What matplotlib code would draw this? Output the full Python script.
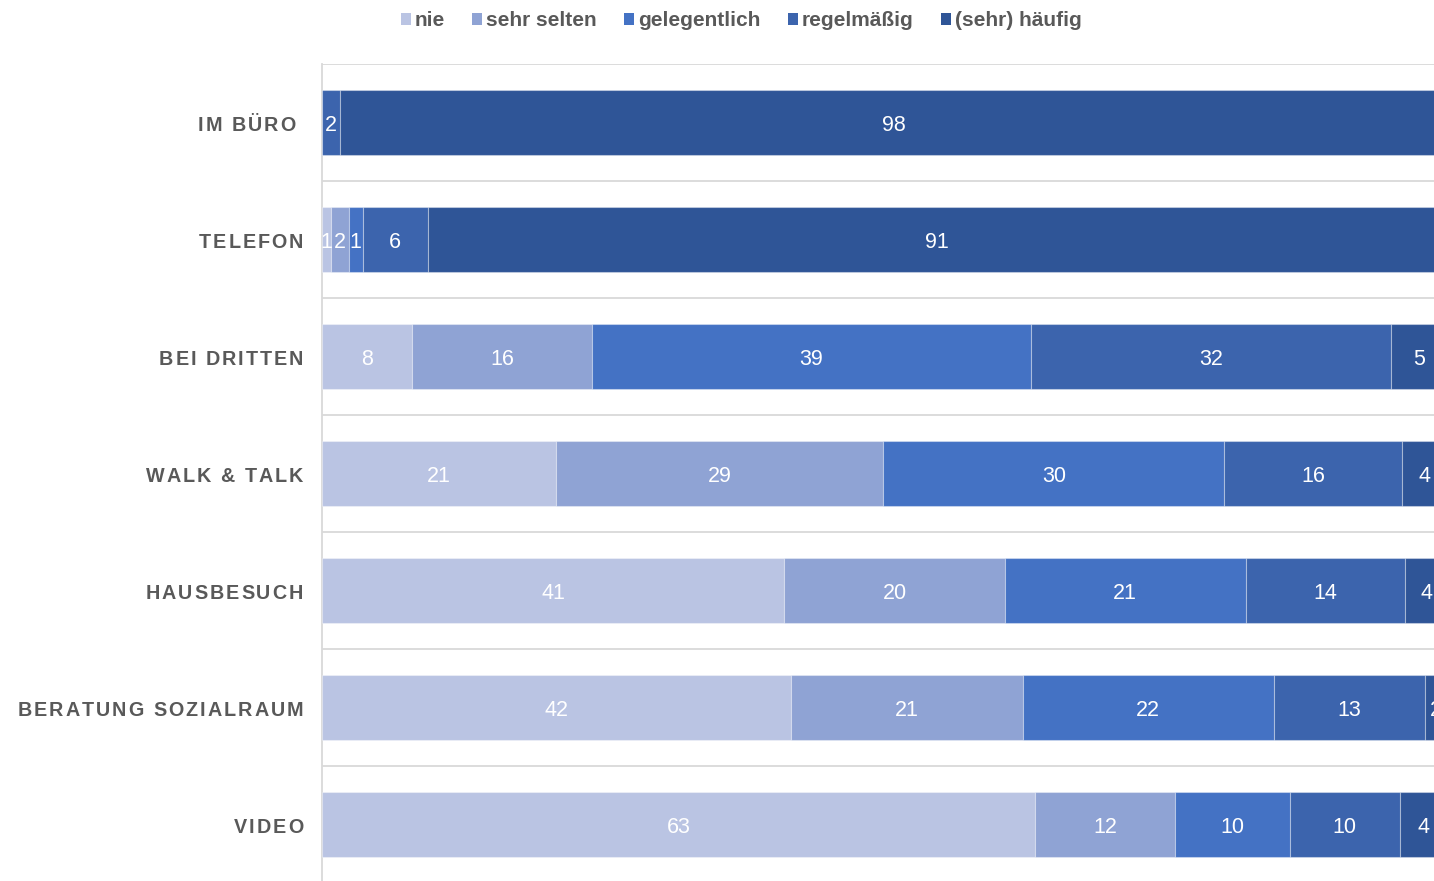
## Stacked bar chart: Beratungssettings

## -----------------------
## Load libraries
import numpy as np
import matplotlib
matplotlib.use("Agg")
import matplotlib.pyplot as plt
from matplotlib import font_manager
from matplotlib.ft2font import FT2Font
from matplotlib.patches import Patch

## -----------------------
## Data (percent)
categories = ["IM BÜRO ", "TELEFON", "BEI DRITTEN", "WALK & TALK",
              "HAUSBESUCH", "BERATUNG SOZIALRAUM", "VIDEO"]
series_names = ["nie", "sehr selten", "gelegentlich", "regelmäßig", "(sehr) häufig"]
nie = [0, 0.8, 8, 20.8, 41.1, 41.7, 63.4]
sehr_selten = [0, 1.6, 16, 29.1, 19.6, 20.6, 12.4]
gelegentlich = [0, 1.2, 39, 30.3, 21.4, 22.3, 10.2]
regelmaessig = [1.6, 5.8, 32, 15.8, 14.2, 13.4, 9.8]
haeufig = [98.4, 90.6, 5, 4.0, 3.7, 2.0, 4.2]

colors = ["#BAC4E3", "#8FA3D4", "#4472C4", "#3C64AD", "#2F5597"]
grey_txt = "#595959"
grid_col = "#D9D9D9"

## -----------------------
## Figure
fig = plt.figure(figsize=(14.34, 8.81), dpi=100)
## axes runs a bit past the right / bottom edge like in the cropped original
ax = fig.add_axes([322 / 1434, -2 / 881, 1125 / 1434, 819 / 881])

lab_size = 15.5
all_series = [nie, sehr_selten, gelegentlich, regelmaessig, haeufig]
y = np.arange(len(categories))
left = np.zeros(len(categories))
for vals, col in zip(all_series, colors):
    vals = np.array(vals, dtype=float)
    ax.barh(y, vals, left=left, height=0.556, color=col,
            edgecolor=(1, 1, 1, 0.35), linewidth=0.8, zorder=3)
    for yi, (l, v) in enumerate(zip(left, vals)):
        if v > 0:
            ## baseline placed so the digits sit centred on the bar
            ax.annotate(f"{v:.0f}", xy=(l + v / 2, yi), xytext=(0, -0.716 * lab_size / 2 - 0.3),
                        textcoords="offset points", ha="center", va="baseline",
                        color="white", fontsize=lab_size, family="Liberation Sans",
                        zorder=4, annotation_clip=False)
    left = left + vals

ax.set_xlim(0, 100)
ax.set_ylim(len(categories) - 0.5, -0.5)

## category separators + left axis line
ax.hlines(np.arange(len(categories) + 1) - 0.5, 0, 100, color=grid_col,
          linewidth=1.3, zorder=1)
for s in ["top", "right", "bottom"]:
    ax.spines[s].set_visible(False)
ax.spines["left"].set_color(grid_col)
ax.spines["left"].set_linewidth(1.3)
ax.set_xticks([])
ax.set_yticks([])

## -----------------------
## Category labels with letter spacing (drawn char by char)
cat_size = 14.2
cat_prop = font_manager.FontProperties(family="Liberation Sans", weight="bold", size=cat_size)
cat_font = FT2Font(font_manager.findfont(cat_prop))
cat_font.set_size(cat_size, 72)

def advance_pt(ch):
    glyph = cat_font.load_char(ord(ch))
    return glyph.linearHoriAdvance / 65536

spacing = 1.45  # pt between letters
pad = 13.5      # pt from the axis line
for yi, lab in enumerate(categories):
    widths = [advance_pt(c) for c in lab]
    total = sum(widths) + spacing * (len(lab) - 1)
    x_off = -pad - total
    for c, w in zip(lab, widths):
        ax.annotate(c, xy=(0, yi), xycoords=("axes fraction", "data"),
                    xytext=(x_off, -5.8), textcoords="offset points",
                    ha="left", va="baseline", fontproperties=cat_prop,
                    color=grey_txt, annotation_clip=False)
        x_off += w + spacing

## -----------------------
## Legend
handles = [Patch(facecolor=c, edgecolor="none") for c in colors]
leg = fig.legend(handles, series_names, loc="center", ncol=5,
                 bbox_to_anchor=(741 / 1434, 1 - 21 / 881), frameon=False,
                 prop={"family": "Liberation Sans", "weight": "bold", "size": 15},
                 handlelength=0.48, handleheight=0.48, handletextpad=0.2,
                 columnspacing=1.3, borderpad=0, borderaxespad=0)
for t in leg.get_texts():
    t.set_color(grey_txt)

fig.savefig("out.png", dpi=100)
